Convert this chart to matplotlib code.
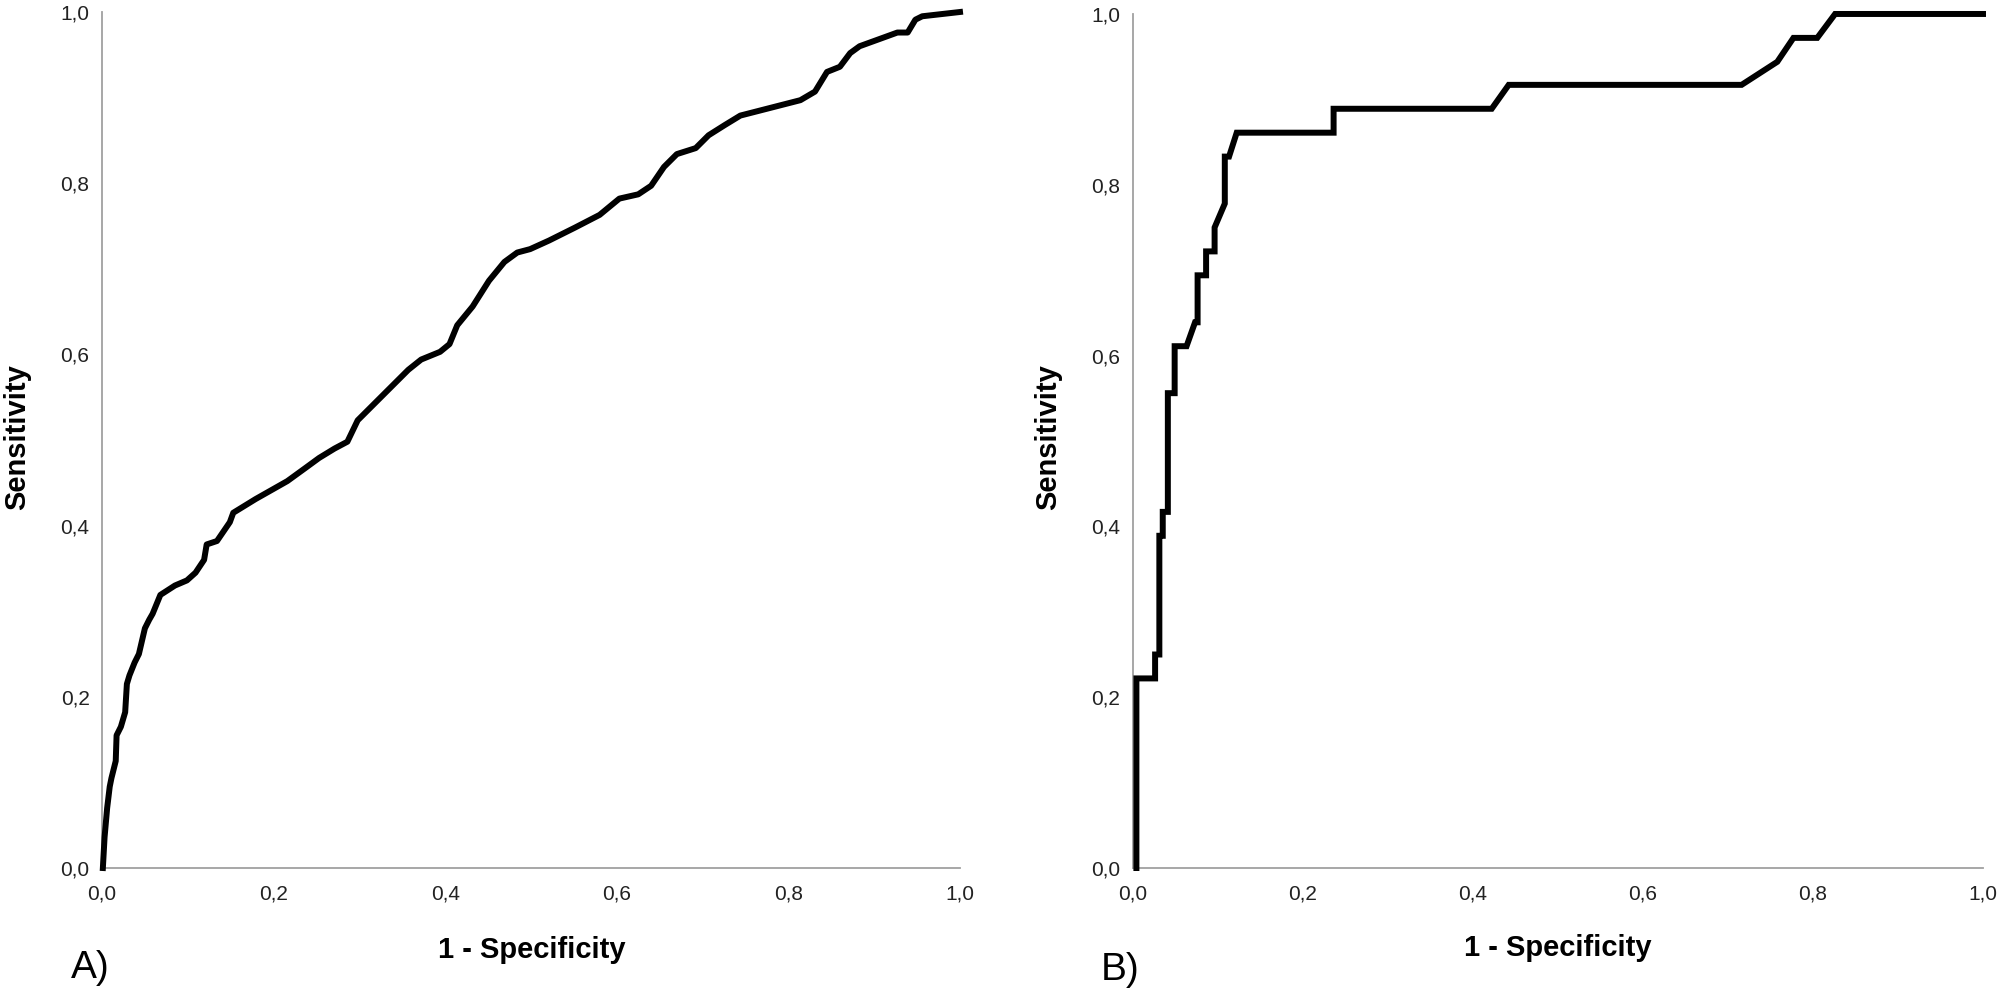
import matplotlib
matplotlib.use("Agg")
import matplotlib.pyplot as plt

plt.rcParams["font.family"] = ["Liberation Sans", "DejaVu Sans"]

# --- Data ---
ticks = [0.0, 0.2, 0.4, 0.6, 0.8, 1.0]
tick_labels = ["0,0", "0,2", "0,4", "0,6", "0,8", "1,0"]

# Panel A: smooth-ish ROC curve
fpr_a = [0.001, 0.003, 0.006, 0.009, 0.011, 0.016, 0.017, 0.022, 0.027, 0.029,
         0.032, 0.038, 0.043, 0.050, 0.055, 0.059, 0.068, 0.085, 0.099, 0.109,
         0.119, 0.122, 0.134, 0.149, 0.153, 0.179, 0.216, 0.238, 0.253, 0.271,
         0.286, 0.298, 0.320, 0.357, 0.372, 0.394, 0.405, 0.414, 0.432, 0.451,
         0.469, 0.484, 0.499, 0.521, 0.551, 0.580, 0.603, 0.625, 0.640, 0.655,
         0.670, 0.692, 0.707, 0.726, 0.744, 0.814, 0.831, 0.845, 0.860, 0.872,
         0.883, 0.927, 0.939, 0.948, 0.956, 1.000]
tpr_a = [0.000, 0.036, 0.070, 0.095, 0.105, 0.125, 0.155, 0.165, 0.182, 0.215,
         0.225, 0.240, 0.250, 0.280, 0.290, 0.297, 0.319, 0.330, 0.336, 0.345,
         0.360, 0.378, 0.382, 0.404, 0.415, 0.431, 0.452, 0.468, 0.479, 0.490,
         0.498, 0.523, 0.545, 0.582, 0.594, 0.603, 0.612, 0.634, 0.656, 0.686,
         0.708, 0.719, 0.723, 0.733, 0.748, 0.763, 0.782, 0.787, 0.797, 0.819,
         0.834, 0.841, 0.856, 0.868, 0.879, 0.897, 0.907, 0.930, 0.936, 0.952,
         0.960, 0.976, 0.976, 0.991, 0.995, 1.000]

# Panel B: stepped ROC curve
fpr_b = [0.004, 0.004, 0.026, 0.026, 0.031, 0.031, 0.035, 0.035, 0.041, 0.041,
         0.049, 0.049, 0.063, 0.073, 0.076, 0.076, 0.086, 0.086, 0.096, 0.096,
         0.108, 0.108, 0.113, 0.122, 0.236, 0.236, 0.422, 0.442, 0.716, 0.758,
         0.777, 0.805, 0.826, 1.000]
tpr_b = [0.000, 0.222, 0.222, 0.250, 0.250, 0.389, 0.389, 0.417, 0.417, 0.556,
         0.556, 0.611, 0.611, 0.639, 0.639, 0.694, 0.694, 0.722, 0.722, 0.750,
         0.778, 0.833, 0.833, 0.861, 0.861, 0.889, 0.889, 0.917, 0.917, 0.944,
         0.972, 0.972, 1.000, 1.000]

SPINE_GRAY = "#a0a0a0"

fig = plt.figure(figsize=(20, 9.91), dpi=100)
ax_a = fig.add_axes([0.051, 0.1241, 0.429, 0.8638])
ax_b = fig.add_axes([0.5665, 0.1241, 0.425, 0.8618])

for ax in (ax_a, ax_b):
    ax.set_xlim(0, 1)
    ax.set_ylim(0, 1)
    ax.set_xticks(ticks)
    ax.set_xticklabels(tick_labels)
    ax.set_yticks(ticks)
    ax.set_yticklabels(tick_labels)
    ax.tick_params(length=0, labelsize=15, colors="#222222")
    ax.tick_params(axis="x", pad=12)
    ax.tick_params(axis="y", pad=9)
    for side in ("top", "right"):
        ax.spines[side].set_visible(False)
    for side in ("left", "bottom"):
        ax.spines[side].set_color(SPINE_GRAY)
        ax.spines[side].set_linewidth(1.3)

ax_a.plot(fpr_a, tpr_a, color="black", linewidth=4.3,
          solid_joinstyle="round", clip_on=False, zorder=3)
ax_b.plot(fpr_b, tpr_b, color="black", linewidth=4.3,
          solid_joinstyle="miter", clip_on=False, zorder=3)

# axis titles and panel letters
lab = dict(fontsize=21, fontweight="bold", ha="center", va="center")
fig.text(0.266, 0.0414, "1 - Specificity", **lab)
fig.text(0.779, 0.0434, "1 - Specificity", **lab)
fig.text(0.0085, 0.559, "Sensitivity", rotation=90, **lab)
fig.text(0.524, 0.559, "Sensitivity", rotation=90, **lab)

fig.text(0.045, 0.0232, "A)", fontsize=28, ha="center", va="center")
fig.text(0.56, 0.021, "B)", fontsize=28, ha="center", va="center")

fig.savefig("out.png", dpi=100)
